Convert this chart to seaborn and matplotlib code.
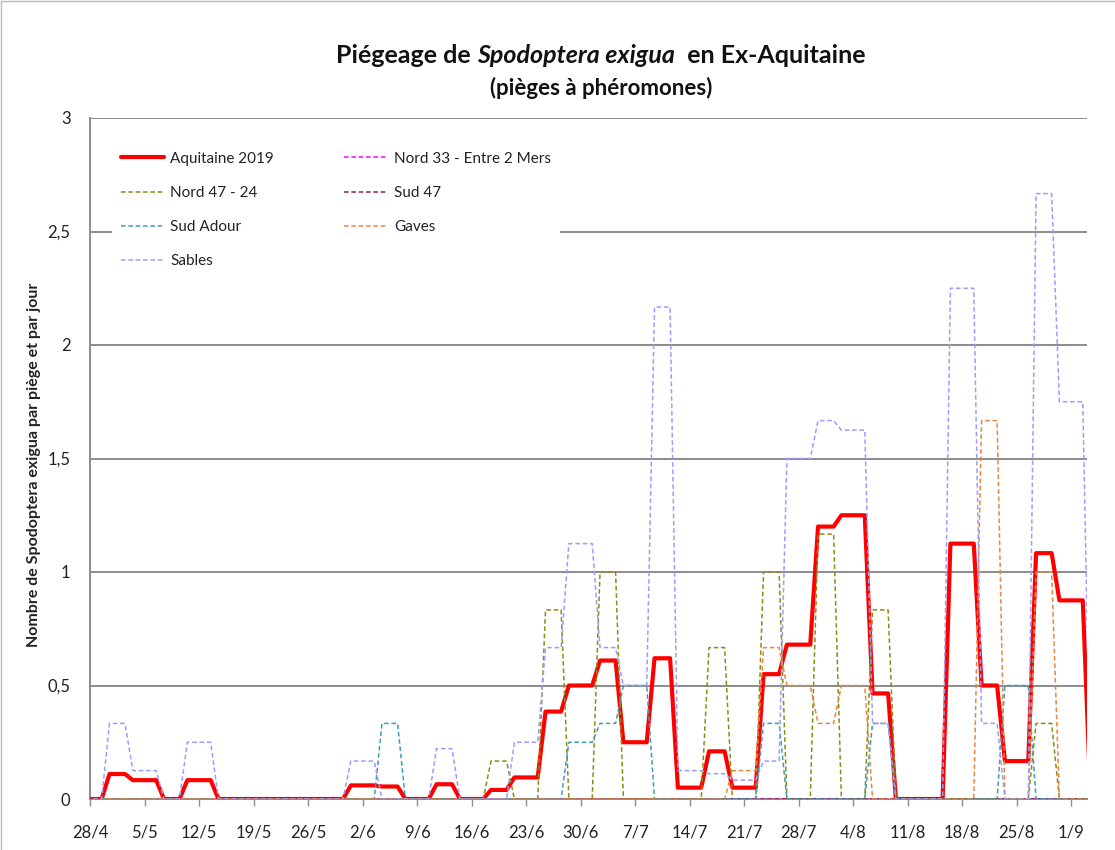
import numpy as np
import pandas as pd
import matplotlib
matplotlib.use("Agg")
import matplotlib.pyplot as plt
from matplotlib.lines import Line2D
import seaborn as sns

# ---------------- data (value per trap-reading period, per trap and per day) ----------------
period_starts = ["2019-04-26", "2019-04-30", "2019-05-03", "2019-05-07", "2019-05-10", "2019-05-14",
                 "2019-05-17", "2019-05-21", "2019-05-24", "2019-05-28", "2019-05-31", "2019-06-04",
                 "2019-06-07", "2019-06-11", "2019-06-14", "2019-06-18", "2019-06-21", "2019-06-25",
                 "2019-06-28", "2019-07-02", "2019-07-05", "2019-07-09", "2019-07-12", "2019-07-16",
                 "2019-07-19", "2019-07-23", "2019-07-26", "2019-07-30", "2019-08-02", "2019-08-06",
                 "2019-08-09", "2019-08-13", "2019-08-16", "2019-08-20", "2019-08-23", "2019-08-27",
                 "2019-08-30", "2019-09-03"]
last_day = "2019-09-03"

aquitaine_2019 = [0, 0.11, 0.083, 0, 0.083, 0, 0, 0, 0, 0, 0.06, 0.055, 0, 0.065, 0, 0.04, 0.095,
                  0.385, 0.5, 0.61, 0.25, 0.62, 0.05, 0.21, 0.05, 0.55, 0.68, 1.2, 1.25, 0.465, 0, 0,
                  1.125, 0.5, 0.167, 1.083, 0.875, 0]
nord_33 = [0] * 38
nord_47_24 = [0, 0, 0, 0, 0, 0, 0, 0, 0, 0, 0, 0, 0, 0, 0, 0.167, 0, 0.833, 0, 1.0, 0, 0, 0, 0.667,
              0, 1.0, 0, 1.167, 0, 0.833, 0, 0, 0, 0, 0, 0.333, 0, 0]
sud_47 = [0] * 38
sud_adour = [0, 0, 0, 0, 0, 0, 0, 0, 0, 0, 0, 0.333, 0, 0, 0, 0, 0, 0, 0.25, 0.333, 0.5, 0, 0, 0,
             0, 0.333, 0, 0, 0, 0.333, 0, 0, 0, 0, 0.5, 0, 0, 0]
gaves = [0, 0, 0, 0, 0, 0, 0, 0, 0, 0, 0, 0, 0, 0, 0, 0, 0, 0, 0, 0, 0, 0, 0, 0, 0.125, 0.667, 0.5,
         0.333, 0.5, 0, 0, 0, 0, 1.667, 0, 1.0, 0, 0]
sables = [0, 0.333, 0.125, 0, 0.25, 0, 0, 0, 0, 0, 0.167, 0, 0, 0.222, 0, 0, 0.25, 0.667, 1.125,
          0.667, 0.5, 2.167, 0.125, 0.111, 0.083, 0.167, 1.5, 1.667, 1.625, 0.333, 0, 0, 2.25, 0.333,
          0, 2.667, 1.75, 0]

series_names = ["Aquitaine 2019", "Nord 33 - Entre 2 Mers", "Nord 47 - 24", "Sud 47",
                "Sud Adour", "Gaves", "Sables"]
series_values = [aquitaine_2019, nord_33, nord_47_24, sud_47, sud_adour, gaves, sables]
series_colors = ["#FF0000", "#FF00FF", "#8C8C14", "#8B2050", "#3E9DB8", "#E8873F", "#9C9CFF"]

tick_start = "2019-04-28"
tick_end = "2019-09-01"
y_tick_labels = ["0", "0,5", "1", "1,5", "2", "2,5", "3"]

# ---------------- daily table ----------------
starts = pd.to_datetime(period_starts)
days = pd.date_range(period_starts[0], last_day, freq="D")
idx = np.searchsorted(starts.values, days.values, side="right") - 1
rows = []
for name, vals in zip(series_names, series_values):
    v = np.asarray(vals, dtype=float)[idx]
    rows.append(pd.DataFrame({"date": days + pd.Timedelta(hours=12), "value": v, "serie": name}))
df = pd.concat(rows, ignore_index=True)

# ---------------- figure ----------------
sns.set_style("white")
plt.rcParams["font.family"] = ["Lato", "DejaVu Sans"]

fig = plt.figure(figsize=(11.15, 8.5), dpi=100)
ax = fig.add_axes([90 / 1115, 1 - 799 / 850, (1087 - 90) / 1115, (799 - 118) / 850])

grey = "#8C8C8C"
dash = (3, 1.8)
for z, (name, col) in enumerate(zip(series_names, series_colors)):
    sub = df[df["serie"] == name]
    if name == "Aquitaine 2019":
        sns.lineplot(data=sub, x="date", y="value", ax=ax, color=col, linewidth=3.0,
                     zorder=3, legend=False)
    else:
        sns.lineplot(data=sub, x="date", y="value", ax=ax, color=col, linewidth=1.1,
                     zorder=4 + z, legend=False)
        ax.lines[-1].set_dashes(dash)

ax.set_ylim(0, 3)
ax.set_yticks(np.arange(0, 3.01, 0.5))
ax.set_yticklabels(y_tick_labels)
ax.set_xlim(pd.Timestamp("2019-04-28"), pd.Timestamp("2019-09-03 01:00"))
xt = pd.date_range(tick_start, tick_end, freq="7D")
ax.set_xticks(xt)
ax.set_xticklabels([f"{d.day}/{d.month}" for d in xt])

ax.grid(axis="y", color=grey, linewidth=1.4)
ax.grid(axis="x", visible=False)
ax.set_axisbelow(True)
for s in ["top", "right"]:
    ax.spines[s].set_visible(False)
for s in ["left", "bottom"]:
    ax.spines[s].set_color(grey)
    ax.spines[s].set_linewidth(1.4)
ax.tick_params(axis="y", length=0, pad=14, labelsize=12, colors="#222222")
ax.tick_params(axis="x", length=5, width=1, color=grey, pad=13, labelsize=12, labelcolor="#222222",
               direction="out", bottom=True)
ax.set_xlabel("")
ax.set_ylabel("Nombre de Spodoptera exigua par piège et par jour", fontsize=11.5,
              fontweight="bold", labelpad=5, color="#222222", y=0.49)

# legend (row-wise order as in the reference)
handles = {}
for name, col in zip(series_names, series_colors):
    if name == "Aquitaine 2019":
        handles[name] = Line2D([], [], color=col, linewidth=3.0)
    else:
        handles[name] = Line2D([], [], color=col, linewidth=1.1, dashes=dash)
order = ["Aquitaine 2019", "Nord 47 - 24", "Sud Adour", "Sables",
         "Nord 33 - Entre 2 Mers", "Sud 47", "Gaves"]
leg = ax.legend([handles[n] for n in order], order, ncol=2, loc="upper left",
                bbox_to_anchor=(0.014, 0.975), frameon=True, fontsize=11,
                handlelength=2.8, handletextpad=0.45, labelspacing=1.32, columnspacing=4.6,
                borderpad=0.6)
leg.get_frame().set_edgecolor("none")
leg.get_frame().set_facecolor("white")
leg.get_frame().set_alpha(1)
for t in leg.get_texts():
    t.set_color("#222222")

# title with italic species name
fig.canvas.draw()
r = fig.canvas.get_renderer()
parts = [("Piégeage de ", "normal"), ("Spodoptera exigua", "italic"), ("  en Ex-Aquitaine", "normal")]
texts = [fig.text(0, 0.935, p, fontsize=18, fontweight="bold", fontstyle=st, va="center",
                  ha="left", color="#111111") for p, st in parts]
widths = [t.get_window_extent(r).width / fig.bbox.width for t in texts]
x0 = 0.539 - sum(widths) / 2
for t, w in zip(texts, widths):
    t.set_x(x0)
    x0 += w
fig.text(0.539, 0.897, "(pièges à phéromones)", fontsize=16, fontweight="bold", ha="center",
         va="center", color="#111111")

# chart border (top-left visible part)
fig.add_artist(Line2D([0.001, 0.001], [0, 0.999], transform=fig.transFigure, color="#BBBBBB", lw=1))
fig.add_artist(Line2D([0.001, 1], [0.999, 0.999], transform=fig.transFigure, color="#BBBBBB", lw=1))

fig.savefig("out.png", dpi=100)
